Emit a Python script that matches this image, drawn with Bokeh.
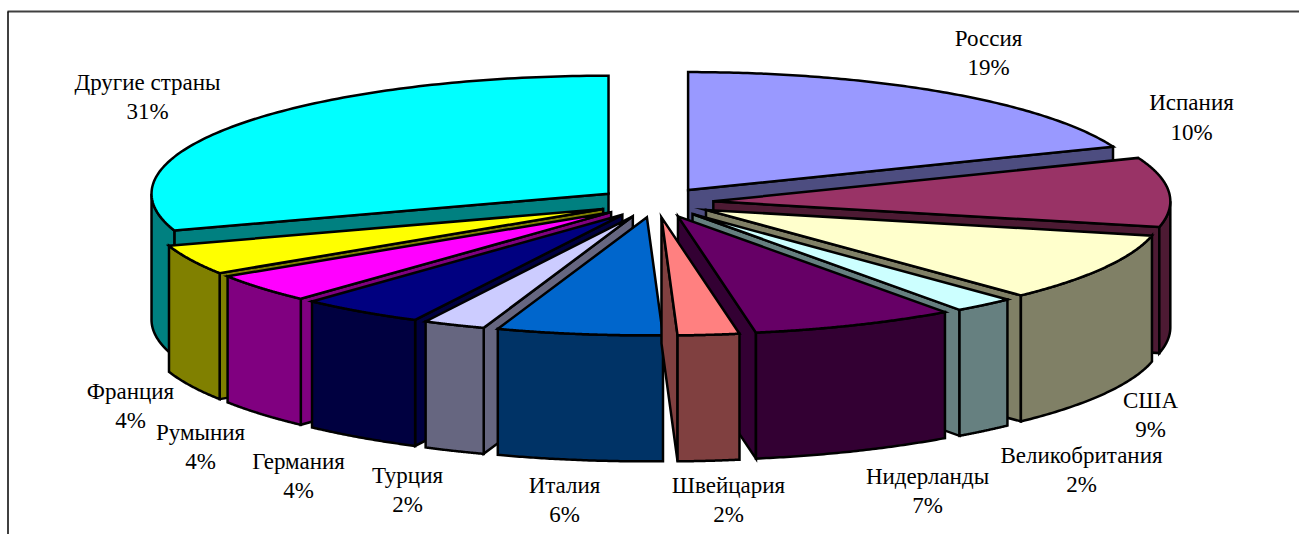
import math
import numpy as np
from bokeh.plotting import figure
from bokeh.models import ColumnDataSource, Range1d
from bokeh.core.properties import value
from bokeh.embed import file_html
from bokeh.resources import INLINE

# ---- data -------------------------------------------------------------
countries = ["Россия", "Испания", "США", "Великобритания", "Нидерланды", "Швейцария",
             "Италия", "Турция", "Германия", "Румыния", "Франция", "Другие страны"]
pct_labels = ["19%", "10%", "9%", "2%", "7%", "2%", "6%", "2%", "4%", "4%", "4%", "31%"]
shares = [19.0, 9.5, 9.4, 2.17, 7.2, 2.17, 5.85, 2.2, 4.39, 3.97, 4.1, 30.05]

top_colors = ["#9999FF", "#993366", "#FFFFCC", "#CCFFFF", "#660066", "#FF8080",
              "#0066CC", "#CCCCFF", "#000080", "#FF00FF", "#FFFF00", "#00FFFF"]
wall_colors = ["#4D4D80", "#4D1A33", "#808066", "#668080", "#330033", "#804040",
               "#003366", "#666680", "#000040", "#800080", "#808000", "#008080"]

# ---- layout (pixel space of the picture) -------------------------------
CX, CY = 655.0, 202.0      # pie centre
RX, RY = 457.0, 118.0      # ellipse radii
EX, EY = 58.0, 15.0        # explosion
DEPTH = 126.0
label_x = [988, 1191, 1150, 1081, 927, 728, 564, 407, 298, 200, 130, 147]
name_y = [38, 102, 400, 455, 476, 485, 485, 475, 461, 432, 391, 82]
pct_y = [67, 132, 429, 484, 505, 514, 514, 504, 490, 461, 420, 111]


def rim(ax, ay, t):
    return ax + RX * np.sin(t), ay - RY * np.cos(t)


total = sum(shares)
edges = np.cumsum([0.0] + shares) / total * 2 * math.pi

slices = []
for i in range(len(shares)):
    a, b = edges[i], edges[i + 1]
    m = (a + b) / 2
    slices.append((math.cos(m), i, a, b, CX + EX * math.sin(m), CY - EY * math.cos(m)))
slices.sort(key=lambda s: -s[0])

xs, ys, fills = [], [], []


def add(px, py, c):
    xs.append(list(px))
    ys.append(list(py))
    fills.append(c)


for _, i, a, b, ax, ay in slices:
    # radial wall at the start of the slice, when it faces the viewer
    if math.sin(a) < 0:
        rx_, ry_ = rim(ax, ay, a)
        add([ax, rx_, rx_, ax], [ay, ry_, ry_ + DEPTH, ay + DEPTH], wall_colors[i])
    # radial wall at the end of the slice, when it faces the viewer
    if math.sin(b) > 0:
        rx_, ry_ = rim(ax, ay, b)
        add([ax, rx_, rx_, ax], [ay, ry_, ry_ + DEPTH, ay + DEPTH], wall_colors[i])
    # outer curved wall, front half only
    lo, hi = max(a, math.pi / 2), min(b, 3 * math.pi / 2)
    if hi > lo:
        t = np.linspace(lo, hi, 60)
        wx, wy = rim(ax, ay, t)
        add(list(wx) + list(wx[::-1]), list(wy) + list((wy + DEPTH)[::-1]), wall_colors[i])
    # top face
    t = np.linspace(a, b, 120)
    tx, ty = rim(ax, ay, t)
    add([ax] + list(tx), [ay] + list(ty), top_colors[i])

# the 1299x534 picture starts at the page origin: the plot covers it from x=0, y=0
p = figure(width=1299, height=534, output_backend="svg", toolbar_location=None,
           x_range=Range1d(0, 1299), y_range=Range1d(534, 0),
           min_border=0, margin=0)
p.axis.visible = False
p.grid.visible = False
p.outline_line_color = None
p.background_fill_color = "white"
p.border_fill_color = "white"

# chart-area frame, only partly inside the picture
p.line([7, 1299], [11, 11], line_color="#404040", line_width=2)
p.line([7.5, 7.5], [11, 534], line_color="black", line_width=1.5)

p.patches("xs", "ys", source=ColumnDataSource(dict(xs=xs, ys=ys, fill=fills)),
          fill_color="fill", line_color="black", line_width=2.5, line_join="miter")

font = value("Liberation Serif")
src = ColumnDataSource(dict(x=label_x, y1=name_y, y2=pct_y, a=countries, b=pct_labels))
for y, t in (("y1", "a"), ("y2", "b")):
    p.text("x", y, text=t, source=src, text_font=font, text_font_size="23px",
           text_color="black", text_align="center", text_baseline="middle")

open("out.html", "w").write(file_html(p, INLINE))
